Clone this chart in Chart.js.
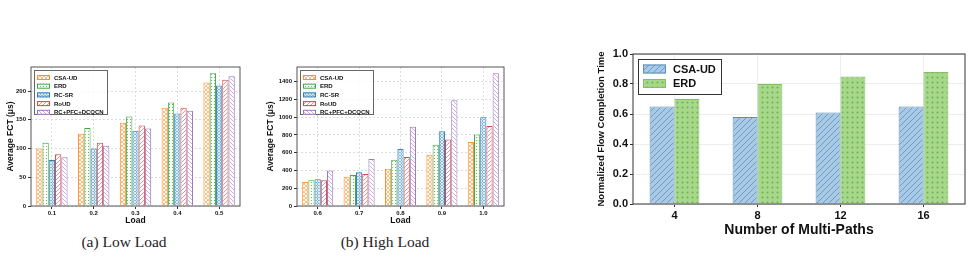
<!DOCTYPE html>
<html>
<head>
<meta charset="utf-8">
<script src="https://cdn.jsdelivr.net/npm/chart.js@4.4.0/dist/chart.umd.min.js"></script>
<style>
  body { margin: 0; width: 972px; height: 258px; background: #fff; position: relative; overflow: hidden; }
  canvas { position: absolute; }
  .cap { position: absolute; top: 233px; font-family: "Liberation Serif", "Times New Roman", serif; font-size: 15.5px; color: #222; transform: translateX(-50%); white-space: nowrap; }
</style>
</head>
<body>
<canvas id="lowChart" width="250" height="188" style="left:0;top:40px"></canvas>
<canvas id="highChart" width="254" height="188" style="left:256px;top:40px"></canvas>
<canvas id="pathChart" width="412" height="200" style="left:560px;top:40px"></canvas>
<div class="cap" style="left:124px">(a) Low Load</div>
<div class="cap" style="left:385px">(b) High Load</div>
<script>
// --- data ---
const schemes = ['CSA-UD', 'ERD', 'RC-SR', 'RoUD', 'RC+PFC+DCQCN'];

const lowLoads = ['0.1', '0.2', '0.3', '0.4', '0.5'];
const csaLow  = [100, 126, 145, 171, 215];
const erdLow  = [110, 136, 156, 180, 231];
const rcsrLow = [80, 100, 131, 161, 210];
const roudLow = [90, 110, 140, 171, 220];
const pfcLow  = [85, 105, 135, 166, 226];
const lowTicks = [0, 50, 100, 150, 200];

const highLoads = ['0.6', '0.7', '0.8', '0.9', '1.0'];
const csaHigh  = [270, 330, 420, 578, 720];
const erdHigh  = [290, 350, 522, 690, 805];
const rcsrHigh = [300, 380, 643, 843, 1000];
const roudHigh = [290, 360, 553, 750, 900];
const pfcHigh  = [400, 530, 893, 1192, 1495];
const highTicks = [0, 200, 400, 600, 800, 1000, 1200, 1400];

const pathCounts = ['4', '8', '12', '16'];
const csaPaths = [0.65, 0.58, 0.61, 0.65];
const erdPaths = [0.70, 0.80, 0.85, 0.88];
const pathTicks = [0, 0.2, 0.4, 0.6, 0.8, 1.0];

const FONT = '"Liberation Sans", Arial, sans-serif';

// small repeating tiles that mimic matplotlib hatches
function hatch(kind, color, bg, size, lw) {
  const c = document.createElement('canvas');
  c.width = c.height = size;
  const g = c.getContext('2d');
  if (bg) { g.fillStyle = bg; g.fillRect(0, 0, size, size); }
  g.strokeStyle = color;
  g.fillStyle = color;
  g.lineWidth = lw || 0.8;
  const s = size;
  const diag = (up) => {
    g.beginPath();
    if (up) {
      g.moveTo(-1, s + 1); g.lineTo(s + 1, -1);
      g.moveTo(-1, 1); g.lineTo(1, -1);
      g.moveTo(s - 1, s + 1); g.lineTo(s + 1, s - 1);
    } else {
      g.moveTo(-1, -1); g.lineTo(s + 1, s + 1);
      g.moveTo(s - 1, -1); g.lineTo(s + 1, 1);
      g.moveTo(-1, s - 1); g.lineTo(1, s + 1);
    }
    g.stroke();
  };
  if (kind === '/') diag(true);
  if (kind === '\\') diag(false);
  if (kind === 'x') { diag(true); diag(false); }
  if (kind === '.') { g.beginPath(); g.arc(s / 2, s / 2, s / 5, 0, Math.PI * 2); g.fill(); }
  if (kind === 'o') { g.beginPath(); g.arc(s / 2, s / 2, s / 3.2, 0, Math.PI * 2); g.stroke(); }
  return g.createPattern(c, 'repeat');
}

const schemeStyles = [
  { fill: hatch('x', 'rgba(255,127,14,0.75)', '#fff', 4, 0.7), edge: 'rgba(255,127,14,0.85)' },
  { fill: hatch('.', 'rgba(44,160,44,0.85)', '#fff', 3), edge: 'rgba(44,160,44,0.9)' },
  { fill: hatch('o', 'rgba(31,119,180,0.85)', '#fff', 3, 0.7), edge: 'rgba(31,119,180,0.9)' },
  { fill: hatch('/', 'rgba(214,39,40,0.7)', '#fff', 4, 0.7), edge: 'rgba(214,39,40,0.85)' },
  { fill: hatch('\\', 'rgba(148,103,189,0.75)', '#fff', 4, 0.7), edge: 'rgba(148,103,189,0.9)' }
];
const pathStyles = [
  { fill: hatch('/', '#6f9cc6', '#a9cae4', 6, 1), edge: '#5d8fbb' },
  { fill: hatch('.', '#6fb24c', '#a7d78b', 5), edge: '#84bf66' }
];

// frame around plot area + legend box drawn inside it
const framePlugin = {
  id: 'frameBox',
  afterDatasetsDraw(chart, args, opts) {
    const { ctx, chartArea: a } = chart;
    ctx.save();
    ctx.strokeStyle = opts.color;
    ctx.lineWidth = opts.width;
    ctx.strokeRect(a.left, a.top, a.right - a.left, a.bottom - a.top);

    const L = opts.legend;
    const x = a.left + L.x, y = a.top + L.y;
    ctx.fillStyle = 'rgba(255,255,255,0.85)';
    ctx.fillRect(x, y, L.w, L.h);
    ctx.strokeStyle = L.border;
    ctx.lineWidth = 1;
    ctx.strokeRect(x + 0.5, y + 0.5, L.w, L.h);
    ctx.font = 'bold ' + L.font + 'px ' + FONT;
    ctx.textBaseline = 'middle';
    chart.data.datasets.forEach((ds, i) => {
      const cy = y + L.first + i * L.row;
      ctx.fillStyle = ds.backgroundColor;
      ctx.fillRect(x + L.swX, cy - L.swH / 2, L.swW, L.swH);
      ctx.strokeStyle = ds.borderColor;
      ctx.strokeRect(x + L.swX + 0.5, cy - L.swH / 2 + 0.5, L.swW - 1, L.swH - 1);
      ctx.fillStyle = '#111';
      ctx.fillText(ds.label, x + L.textX, cy + 0.5);
    });
    ctx.restore();
  }
};

function buildOptions(cfg) {
  return {
    responsive: false,
    animation: false,
    devicePixelRatio: 1,
    layout: { padding: { top: cfg.padTop, right: cfg.padRight, left: 0, bottom: 0 } },
    plugins: {
      legend: { display: false },
      tooltip: { enabled: false },
      frameBox: { color: cfg.frameColor, width: 1, legend: cfg.legend }
    },
    scales: {
      x: {
        grid: { color: cfg.gridColor, offset: false, tickLength: 3, tickColor: '#333' },
        border: { display: false, dash: cfg.dash },
        ticks: { color: '#111', padding: cfg.xTickPad, font: { family: FONT, size: cfg.tickSize, weight: 'bold' } },
        title: { display: true, text: cfg.xTitle, color: '#111', padding: { top: 0, bottom: cfg.xTitlePad },
          font: { family: FONT, size: cfg.xTitleSize, weight: 'bold' } },
        afterFit: (s) => { s.height = cfg.xHeight; }
      },
      y: {
        min: 0,
        max: cfg.yMax,
        grid: { color: cfg.gridColor, tickLength: 3, tickColor: '#333' },
        border: { display: false, dash: cfg.dash },
        ticks: { color: '#111', padding: 2,
          font: { family: FONT, size: cfg.tickSize, weight: 'bold' },
          callback: cfg.fmt },
        afterBuildTicks: (s) => { s.ticks = cfg.yTicks.map(v => ({ value: v })); },
        title: { display: true, text: cfg.yTitle, color: '#111', padding: { top: cfg.yTitlePad, bottom: 0 },
          font: { family: FONT, size: cfg.yTitleSize, weight: 'bold' } },
        afterFit: (s) => { s.width = cfg.yWidth; }
      }
    }
  };
}

function schemeSets(series) {
  return series.map((vals, i) => ({
    label: schemes[i],
    data: vals,
    backgroundColor: schemeStyles[i].fill,
    borderColor: schemeStyles[i].edge,
    borderWidth: 1,
    categoryPercentage: 0.75,
    barPercentage: 1.0
  }));
}

const smallLegend = { x: 3, y: 3, w: 73, h: 44, first: 7.5, row: 8.7, swX: 3, swW: 13, swH: 5, textX: 20, font: 6, border: '#666' };

new Chart(document.getElementById('lowChart'), {
  type: 'bar',
  data: { labels: lowLoads, datasets: schemeSets([csaLow, erdLow, rcsrLow, roudLow, pfcLow]) },
  options: buildOptions({
    padTop: 27, padRight: 10, yWidth: 31, xHeight: 22, yMax: 242, yTicks: lowTicks,
    gridColor: '#dcdcdc', dash: [2, 2], frameColor: '#555', tickSize: 6, xTickPad: 1,
    xTitle: 'Load', xTitleSize: 8.5, xTitlePad: 2, yTitle: 'Average FCT (\u03bcs)', yTitleSize: 8.5, yTitlePad: 6,
    fmt: (v) => v, legend: smallLegend
  }),
  plugins: [framePlugin]
});

new Chart(document.getElementById('highChart'), {
  type: 'bar',
  data: { labels: highLoads, datasets: schemeSets([csaHigh, erdHigh, rcsrHigh, roudHigh, pfcHigh]) },
  options: buildOptions({
    padTop: 27, padRight: 6, yWidth: 41, xHeight: 22, yMax: 1566, yTicks: highTicks,
    gridColor: '#dcdcdc', dash: [2, 2], frameColor: '#555', tickSize: 6, xTickPad: 1,
    xTitle: 'Load', xTitleSize: 8.5, xTitlePad: 2, yTitle: 'Average FCT (\u03bcs)', yTitleSize: 8.5, yTitlePad: 10,
    fmt: (v) => v, legend: smallLegend
  }),
  plugins: [framePlugin]
});

new Chart(document.getElementById('pathChart'), {
  type: 'bar',
  data: {
    labels: pathCounts,
    datasets: [csaPaths, erdPaths].map((vals, i) => ({
      label: ['CSA-UD', 'ERD'][i],
      data: vals,
      backgroundColor: pathStyles[i].fill,
      borderColor: pathStyles[i].edge,
      borderWidth: 1,
      categoryPercentage: 0.6,
      barPercentage: 1.0
    }))
  },
  options: buildOptions({
    padTop: 14, padRight: 7, yWidth: 73, xHeight: 36, yMax: 1.0, yTicks: pathTicks,
    gridColor: '#ededed', dash: [], frameColor: '#333', tickSize: 11, xTickPad: 2,
    xTitle: 'Number of Multi-Paths', xTitleSize: 14, xTitlePad: 1, yTitle: 'Normalized Flow Completion Time', yTitleSize: 9.5, yTitlePad: 36,
    fmt: (v) => v.toFixed(1),
    legend: { x: 5, y: 5, w: 83, h: 35, first: 10, row: 14.5, swX: 5, swW: 23, swH: 9, textX: 35, font: 11, border: '#333' }
  }),
  plugins: [framePlugin]
});
</script>
</body>
</html>
